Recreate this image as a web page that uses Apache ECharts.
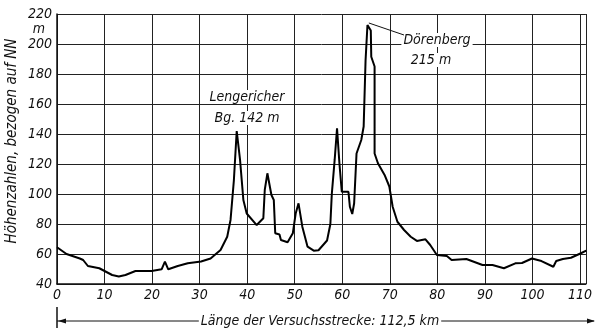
<!DOCTYPE html>
<html>
<head>
<meta charset="utf-8">
<script src="https://cdn.jsdelivr.net/npm/echarts@6/dist/echarts.min.js"></script>
<style>
  html, body { margin: 0; padding: 0; background: #fff; }
  #chart { width: 595px; height: 328px; }
</style>
</head>
<body>
<div id="chart"></div>
<script>
// Streckenkilometer (km) und Höhe über NN (m)
const km = [0, 2, 4.8, 5.5, 6.5, 8.9, 11.6, 13, 14.4, 16.5, 19.9, 22, 22.7, 23.4, 25.4, 27.5, 30.3, 32.3, 34.4, 35.8, 36.5, 37.2,
  37.8, 38.5, 39.2, 39.9, 42, 43.4, 43.7, 44.25, 45.1, 45.6, 45.9, 46.8, 47.1, 48.5, 49.6, 50.2, 50.8, 51.6, 52.7, 54, 55,
  56.8, 57.5, 57.8, 58.4, 58.9, 59.4, 59.9, 61.3, 61.6, 62.1, 62.5, 63, 64, 64.5, 64.9, 65.3, 65.6, 66, 66.1, 66.8, 66.8,
  67.5, 68.9, 69.9, 70.6, 71.6, 73, 74.4, 75.7, 77.5, 78.5, 79.9, 82, 83, 86.1, 89.5, 91.6, 94, 96.4, 97.8, 99.9, 101.9,
  104.4, 105, 106.4, 108.1, 110.2, 111.3];
const hoehe = [64.5, 60, 57, 56, 52, 50.5, 46, 45, 46, 48.7, 48.7, 49.8, 54.9, 49.8, 52, 53.8, 55, 57, 62.7, 71.5, 82.7, 109,
  142, 122.7, 96, 87, 79.3, 83.8, 102.7, 113.8, 99.3, 96, 73.8, 73, 69.3, 67.8, 73.8, 87, 93.8, 78.2, 64.9, 62.2, 62.5,
  69, 80, 100, 122.7, 143.8, 120.5, 101.5, 101.5, 91.5, 86.7, 93.8, 127, 136, 145, 189, 212.7, 214, 209, 191.5, 185, 127,
  120.5, 112.7, 105, 91.5, 81.5, 76, 71.5, 68.7, 69.8, 66, 59.3, 58.7, 56, 56.7, 52.7, 52.7, 50.5, 53.8, 54, 57, 55.3,
  51.5, 55.3, 56.7, 57.5, 60.5, 62.2];

const xTicks = [0, 10, 20, 30, 40, 50, 60, 70, 80, 90, 100, 110];
const yTicks = [40, 60, 80, 100, 120, 140, 160, 180, 200, 220];

const font = 'DejaVu Sans Condensed';
const points = km.map((k, i) => [k, hoehe[i]]);

const chart = echarts.init(document.getElementById('chart'));

chart.setOption({
  animation: false,
  backgroundColor: '#fff',
  grid: { left: 57, right: 0, top: 14, bottom: 44 },
  xAxis: {
    type: 'value',
    min: 0,
    max: 111.25,
    interval: 10,
    axisLine: { show: true, lineStyle: { color: '#111', width: 1.5 } },
    axisTick: { show: false },
    axisLabel: {
      color: '#111',
      fontFamily: font,
      fontStyle: 'italic',
      fontSize: 14,
      margin: 4,
      formatter: v => xTicks.includes(v) ? String(v) : ''
    },
    splitLine: { show: true, lineStyle: { color: '#222', width: 1 } }
  },
  yAxis: {
    type: 'value',
    min: 40,
    max: 220,
    interval: 20,
    axisLine: { show: true, lineStyle: { color: '#111', width: 1.5 } },
    axisTick: { show: false },
    axisLabel: {
      color: '#111',
      fontFamily: font,
      fontStyle: 'italic',
      fontSize: 14,
      margin: 5,
      formatter: v => yTicks.includes(v) ? String(v) : ''
    },
    splitLine: { show: true, lineStyle: { color: '#222', width: 1 } }
  },
  series: [{
    type: 'line',
    data: points,
    showSymbol: false,
    lineStyle: { color: '#000', width: 2 },
    z: 5
  }]
});

// Beschriftungen
const txt = (text, x, y, align) => ({
  type: 'text',
  x: x,
  y: y,
  z: 10,
  style: {
    text: text,
    fill: '#111',
    font: 'italic 14px "' + font + '"',
    align: align || 'center',
    verticalAlign: 'middle',
    backgroundColor: '#fff',
    padding: [0, 2]
  }
});

const peak = chart.convertToPixel({ gridIndex: 0 }, [65.6, 214]);

chart.setOption({
  graphic: [
    txt('m', 47, 29, 'right'),
    {
      type: 'text',
      x: 12,
      y: 141,
      rotation: Math.PI / 2,
      style: {
        text: 'Höhenzahlen, bezogen auf NN',
        fill: '#111',
        font: 'italic 15px "' + font + '"',
        align: 'center',
        verticalAlign: 'middle'
      }
    },
    txt('Lengericher', 247, 97),
    txt('Bg. 142 m', 247, 118),
    txt('Dörenberg', 437, 40),
    txt('215 m', 431, 60),
    {
      type: 'line', z: 11,
      shape: { x1: peak[0], y1: peak[1], x2: 404, y2: 35 },
      style: { stroke: '#111', lineWidth: 1 }
    },
    // Streckenlänge mit Pfeilen
    {
      type: 'line', z: 9,
      shape: { x1: 57, y1: 321, x2: 594, y2: 321 },
      style: { stroke: '#111', lineWidth: 1 }
    },
    {
      type: 'line', z: 9,
      shape: { x1: 57, y1: 307, x2: 57, y2: 328 },
      style: { stroke: '#111', lineWidth: 1.5 }
    },
    {
      type: 'polygon', z: 9,
      shape: { points: [[58, 321], [66, 318.5], [66, 323.5]] },
      style: { fill: '#111' }
    },
    {
      type: 'polygon', z: 9,
      shape: { points: [[595, 321], [587, 318.5], [587, 323.5]] },
      style: { fill: '#111' }
    },
    txt('Länge der Versuchsstrecke: 112,5 km', 320, 321)
  ]
});
</script>
</body>
</html>
